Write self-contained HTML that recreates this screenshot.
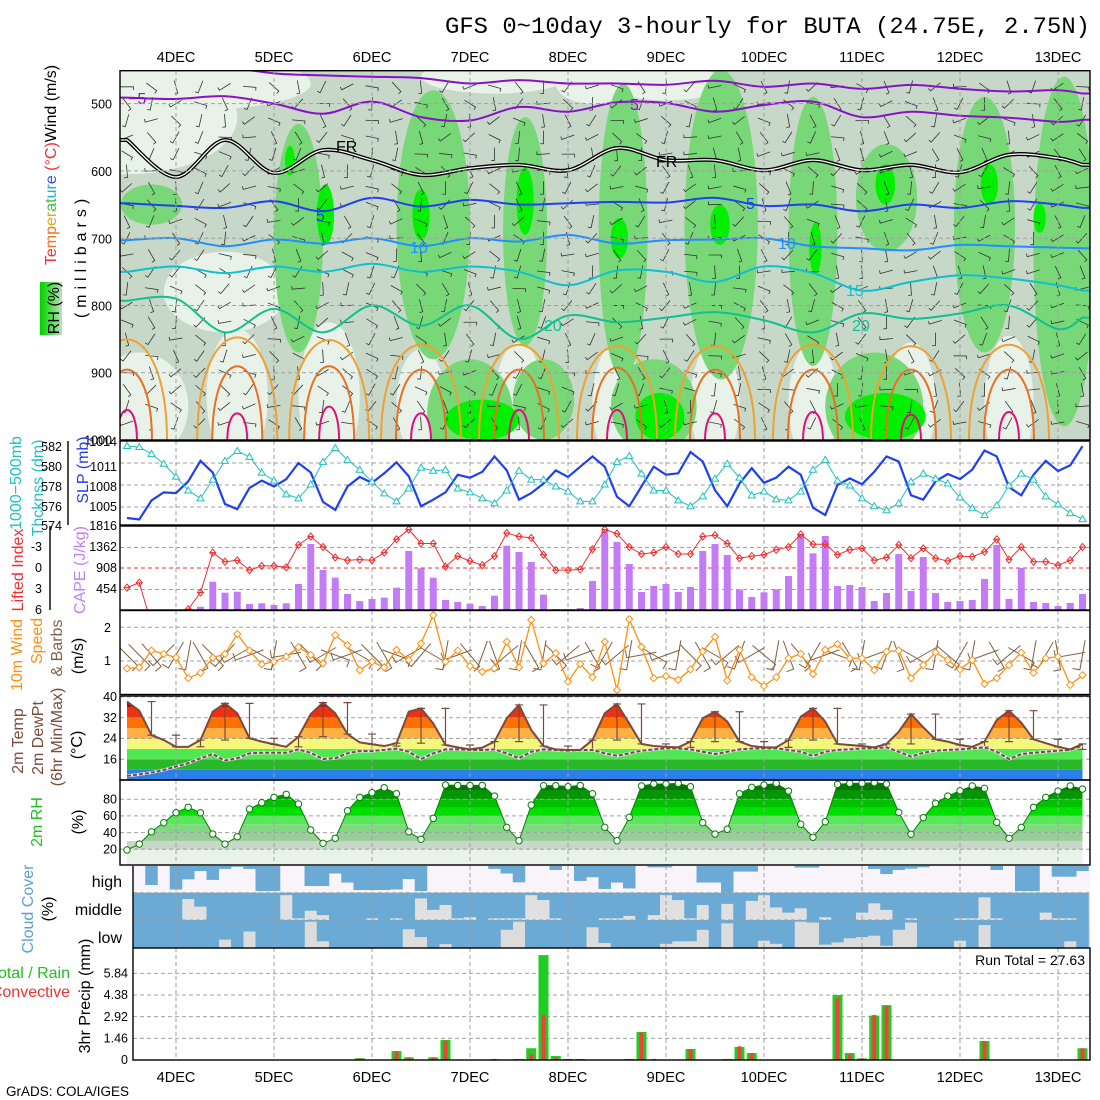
<!DOCTYPE html>
<html><head><meta charset="utf-8">
<style>
body{margin:0;background:#fff}
svg{display:block}
text{font-family:"Liberation Sans",sans-serif}
.tk{font-size:12.5px;fill:#000}
.rl{font-size:16px}
.dl{font-size:14.5px;fill:#000}
</style></head>
<body>
<svg id="chart" xmlns="http://www.w3.org/2000/svg" width="1100" height="1100" viewBox="0 0 1100 1100">
<defs>
<clipPath id="clipTop"><rect x="120" y="71" width="970" height="369"/></clipPath>
<clipPath id="clipCape"><rect x="120" y="526" width="970" height="84"/></clipPath>
<clipPath id="clipWind"><rect x="120" y="611" width="970" height="84"/></clipPath>
<clipPath id="clipT"><polygon id="tpoly" points="0,0"/></clipPath>
<clipPath id="clipRH"><polygon id="rhpoly" points="0,0"/></clipPath>
<linearGradient id="rhleg" x1="0" x2="1" y1="0" y2="0"><stop offset="0" stop-color="#00d000"/><stop offset="0.5" stop-color="#50e050"/><stop offset="1" stop-color="#c8d8c8"/></linearGradient>
</defs>
<rect x="0" y="0" width="1100" height="1100" fill="#fff"/>
<g id="gTop" clip-path="url(#clipTop)"></g>
<g id="gMain"></g>
<g id="gGrid"></g>
<g id="gMarks"></g>

<g fill="none" stroke="#000" stroke-width="1.4">
<rect x="120" y="70.7" width="970" height="369.3"/>
<rect x="120" y="441" width="970" height="84"/>
<rect x="120" y="526" width="970" height="84"/>
<rect x="120" y="610.5" width="970" height="84"/>
<rect x="120" y="696" width="970" height="84"/>
<rect x="120" y="780" width="970" height="85"/>
<line x1="133" y1="866" x2="133" y2="948"/>
<rect x="133" y="948" width="957" height="112"/>
<line x1="68" y1="441" x2="68" y2="525"/>
<line x1="50" y1="526" x2="50" y2="610"/>
</g>

<text x="445" y="33" textLength="645" lengthAdjust="spacingAndGlyphs" style="font-family:'Liberation Mono',monospace;font-size:23.5px" fill="#000">GFS 0~10day 3-hourly for BUTA (24.75E, 2.75N)</text>
<g id="gDates"></g>

<g class="tk" text-anchor="end">
<text x="112" y="108.5">500</text>
<text x="112" y="176">600</text>
<text x="112" y="243.5">700</text>
<text x="112" y="310.5">800</text>
<text x="112" y="377.5">900</text>
<text x="112" y="444.5">1000</text>
</g>
<text class="rl" transform="translate(56,165) rotate(-90)" text-anchor="middle"><tspan fill="#f03030">Te</tspan><tspan fill="#f07020">mp</tspan><tspan fill="#e0b000">er</tspan><tspan fill="#40c040">at</tspan><tspan fill="#20b0d0">ur</tspan><tspan fill="#3050f0">e</tspan><tspan fill="#f03030"> (°C)</tspan><tspan fill="#000">Wind (m/s)</tspan></text>
<text class="rl" transform="translate(86,256) rotate(-90)" text-anchor="middle" fill="#000" style="letter-spacing:5px">(millibars)</text>
<rect x="40" y="282" width="22" height="53" fill="url(#rhleg)"/>
<text class="rl" transform="translate(59,308) rotate(-90)" text-anchor="middle" fill="#000">RH (%)</text>

<text class="rl" transform="translate(21,483) rotate(-90)" text-anchor="middle" fill="#20c0c0">1000−500mb</text>
<text class="rl" transform="translate(43,488) rotate(-90)" text-anchor="middle" fill="#20c0c0">Thcknss (dm)</text>
<text class="rl" transform="translate(88,470) rotate(-90)" text-anchor="middle" fill="#2040f0">SLP (mb)</text>
<g class="tk" text-anchor="end">
<text x="62" y="451">582</text>
<text x="62" y="471">580</text>
<text x="62" y="491">578</text>
<text x="62" y="511">576</text>
<text x="62" y="530">574</text>
</g>
<g class="tk" text-anchor="end">
<text x="117" y="446">1014</text>
<text x="117" y="471">1011</text>
<text x="117" y="491">1008</text>
<text x="117" y="511">1005</text>
</g>
<text class="rl" transform="translate(23,570) rotate(-90)" text-anchor="middle" fill="#f03030">Lifted Index</text>
<text class="rl" transform="translate(85,570) rotate(-90)" text-anchor="middle" fill="#c080f8">CAPE (J/kg)</text>
<g class="tk" text-anchor="end">
<text x="42" y="551">-3</text>
<text x="42" y="572">0</text>
<text x="42" y="593">3</text>
<text x="42" y="614">6</text>
</g>
<g class="tk" text-anchor="end">
<text x="117" y="530">1816</text>
<text x="117" y="551">1362</text>
<text x="117" y="572">908</text>
<text x="117" y="593">454</text>
</g>
<text class="rl" transform="translate(22,655) rotate(-90)" text-anchor="middle" fill="#ff9010">10m Wind</text>
<text class="rl" transform="translate(42,641) rotate(-90)" text-anchor="middle" fill="#ff9010">Speed</text>
<text class="rl" transform="translate(62,648) rotate(-90)" text-anchor="middle" fill="#806040">&amp; Barbs</text>
<text class="rl" transform="translate(83,656) rotate(-90)" text-anchor="middle" fill="#000">(m/s)</text>
<g class="tk" text-anchor="end">
<text x="111" y="632">2</text>
<text x="111" y="665">1</text>
</g>
<text class="rl" transform="translate(23,741) rotate(-90)" text-anchor="middle" fill="#7a4a3a">2m Temp</text>
<text class="rl" transform="translate(43,738) rotate(-90)" text-anchor="middle" fill="#7a4a3a">2m DewPt</text>
<text class="rl" transform="translate(62,737) rotate(-90)" text-anchor="middle" fill="#7a4a3a">(6hr Min/Max)</text>
<text class="rl" transform="translate(82,745) rotate(-90)" text-anchor="middle" fill="#000">(°C)</text>
<g class="tk" text-anchor="end">
<text x="117" y="701">40</text>
<text x="117" y="722">32</text>
<text x="117" y="742.5">24</text>
<text x="117" y="763.5">16</text>
</g>
<text class="rl" transform="translate(42,822) rotate(-90)" text-anchor="middle" fill="#20c020">2m RH</text>
<text class="rl" transform="translate(83,822) rotate(-90)" text-anchor="middle" fill="#000">(%)</text>
<g class="tk" text-anchor="end">
<text x="117" y="803.5">80</text>
<text x="117" y="820">60</text>
<text x="117" y="837">40</text>
<text x="117" y="853.5">20</text>
</g>
<text class="rl" transform="translate(33,909) rotate(-90)" text-anchor="middle" fill="#5ba0d0">Cloud Cover</text>
<text class="rl" transform="translate(53,909) rotate(-90)" text-anchor="middle" fill="#000">(%)</text>
<text x="122" y="887" text-anchor="end" font-size="16" fill="#000">high</text>
<text x="122" y="915" text-anchor="end" font-size="16" fill="#000">middle</text>
<text x="122" y="943" text-anchor="end" font-size="16" fill="#000">low</text>
<text x="70" y="978" text-anchor="end" font-size="16" fill="#20c020">Total / Rain</text>
<text x="70" y="997" text-anchor="end" font-size="16" fill="#f03030">Convective</text>
<text class="rl" transform="translate(90,996) rotate(-90)" text-anchor="middle" fill="#000">3hr Precip (mm)</text>
<g class="tk" text-anchor="end">
<text x="128" y="977.5">5.84</text>
<text x="128" y="999">4.38</text>
<text x="128" y="1021">2.92</text>
<text x="128" y="1042.5">1.46</text>
<text x="128" y="1064">0</text>
</g>
<text x="1085" y="965" text-anchor="end" font-size="14" fill="#000">Run Total = 27.63</text>
<text x="6" y="1096" font-size="13.5" fill="#000">GrADS: COLA/IGES</text>
</svg>

<script>
const dayLabels = ["4DEC","5DEC","6DEC","7DEC","8DEC","9DEC","10DEC","11DEC","12DEC","13DEC"];
const slp = [1003.5,1003.3,1005.9,1007.0,1006.9,1008.5,1011.3,1009.7,1005.4,1004.7,
1007.6,1008.6,1007.8,1008.8,1011.0,1009.7,1005.7,1004.6,1007.8,1009.1,
1008.3,1009.6,1011.1,1009.2,1005.1,1006.0,1007.0,1009.4,1009.0,1009.8,
1011.9,1010.0,1006.0,1006.9,1008.2,1010.0,1009.1,1010.5,1011.9,1010.5,
1006.4,1005.1,1007.8,1010.5,1009.4,1009.6,1012.5,1011.2,1007.3,1005.1,
1008.2,1010.3,1008.3,1009.0,1010.5,1009.4,1004.9,1003.9,1008.0,1008.9,
1008.1,1009.8,1011.9,1011.2,1006.6,1006.0,1008.5,1009.5,1008.8,1010.1,
1012.7,1011.9,1007.7,1006.6,1009.4,1011.3,1009.9,1010.7,1013.3];
const thickness = [582.1,582.0,581.3,580.3,579.0,577.6,576.8,578.7,580.6,581.6,
581.0,579.4,578.6,577.2,576.8,578.2,580.5,581.9,580.7,579.7,
578.5,577.3,576.5,577.8,579.9,579.6,579.7,577.8,577.4,576.8,
576.3,577.6,579.6,578.7,578.7,578.0,577.5,576.5,576.5,578.2,
580.5,581.1,579.3,577.6,577.6,576.6,576.0,577.0,578.8,580.3,
578.9,577.1,577.5,576.7,576.6,577.5,579.7,580.7,578.6,578.1,
576.8,576.0,575.6,576.3,578.5,579.3,578.8,578.3,576.9,575.8,
575.1,576.1,578.1,579.3,578.7,577.0,576.2,575.3,574.7];
const liftedIndex = [2.8,2.1,8,8,8,5.9,3.5,-2.2,-0.9,-1.1,
0.3,-0.3,-0.3,-0.1,-3.3,-4.5,-3.0,-1.5,-1.1,-1.2,
-1.1,-2.2,-4.1,-5.5,-3.5,-3.5,-0.2,-1.7,-1.0,-0.4,
-1.7,-5.0,-4.5,-4.3,-1.9,0.3,0.3,0.2,-2.7,-5.5,
-4.9,-3.0,-2.0,-2.2,-3.0,-2.0,-2.0,-4.5,-4.7,-3.5,
-1.4,-1.7,-1.9,-2.6,-3.0,-4.8,-3.4,-3.4,-1.9,-2.6,
-2.8,-1.1,-1.5,-3.3,-1.4,-2.8,-1.4,-1.0,-1.7,-1.6,
-2.3,-4.1,-1.2,-3.0,-0.9,-0.9,-0.4,-1.1,-3.0];
const cape = [0,0,0,0,0,0,82,623,385,406,
140,156,119,156,573,1438,876,709,357,205,
249,277,493,1286,912,709,227,184,147,97,
320,1401,1265,1049,342,32,30,54,638,1725,
1481,1005,400,530,573,400,508,1286,1438,1200,
450,292,393,458,746,1654,1237,1611,530,551,
508,205,378,1221,421,1157,378,184,205,227,
681,1416,249,919,184,162,97,162,357];
const windSpeed = [0.78,0.81,1.31,1.21,1.10,0.49,0.65,1.10,1.21,1.80,
1.31,0.90,0.98,1.13,1.41,1.18,0.93,1.77,1.47,0.73,
0.98,0.81,1.33,1.03,1.52,2.36,0.98,1.31,0.85,0.68,
0.78,1.57,0.81,2.22,0.93,1.23,0.39,0.91,0.52,1.57,
0.14,2.24,1.42,0.49,0.55,0.44,0.75,1.28,1.72,0.42,
1.33,0.52,0.26,0.52,1.08,1.21,0.61,1.33,1.50,1.08,
1.08,0.73,1.28,1.31,0.49,0.88,1.25,1.03,0.75,1.03,
0.32,0.49,0.88,1.25,0.65,1.08,1.13,0.29,0.58];
const windDir = [45,45,50,135,120,100,60,45,130,150,
160,30,100,170,60,45,150,20,160,30,
45,60,20,150,130,30,100,160,50,110,
70,140,100,60,100,45,140,160,60,120,
140,100,170,30,160,100,45,60,30,140,
110,150,40,100,70,50,120,160,20,60,
100,160,110,70,30,150,100,40,120,100,
160,60,140,30,100,120,80,170,100];
const temp2m = [38.2,34.7,25.3,23.4,20.8,20.8,23.4,34.3,37.5,33.7,
24.1,22.8,21.8,20.8,24.7,33.4,37.8,33.7,25.7,22.5,
21.8,21.1,22.2,34.3,35.6,29.8,21.5,20.6,19.8,20.5,
22.8,31.8,36.9,27.3,21.1,19.8,19.6,19.6,23.4,33.7,
37.3,29.8,21.9,21.1,20.8,20.6,22.8,31.8,34.3,30.5,
22.8,21.1,20.6,20.6,23.4,32.4,35.6,30.5,21.9,21.5,
21.1,20.6,21.9,26.6,33.4,28.3,23.7,22.8,21.5,20.8,
22.8,31.1,34.7,30.1,23.7,22.2,20.8,19.8,21.9];
const dew2m = [9.6,10.2,10.9,11.9,13.2,14.5,16.4,18.0,15.5,16.4,
18.3,18.5,18.5,18.5,19.8,18.5,16.1,16.4,18.3,19.2,
19.2,19.6,20.1,18.9,16.1,18.3,19.8,19.8,19.6,19.6,
19.8,18.3,16.4,18.9,19.8,19.6,19.3,19.6,19.6,18.3,
17.3,18.3,19.3,19.8,20.2,20.2,19.8,18.9,18.0,18.9,
19.8,20.1,20.2,20.2,19.6,18.9,17.3,18.9,19.6,19.8,
20.2,20.2,20.6,18.9,17.0,18.5,19.3,19.6,19.8,20.2,
20.6,18.9,16.1,18.0,18.5,18.9,19.3,19.6,21.3];
const rh2m = [19.2,26.3,41,51.9,63.8,70.3,63.8,38.3,26.3,35.1,
68.3,75.8,82.3,85.9,74.3,43.1,27.2,33.2,66.2,82.3,
87.8,93.8,86.6,41,32,57.1,97,96.5,96.5,96.5,
83.8,46.3,30.3,73,96.2,96.2,95,96.5,86.6,46.3,
30.3,58.3,95.8,98.2,98.2,99,95,51.9,38.3,44,
86.6,94.2,97,99,89.8,50,34.4,53,97.8,99,
99,99.8,98.2,64.3,38,57.9,75.1,83.8,90.2,95.8,
93,52.3,33.2,46.3,70.3,82.3,89.8,95.8,92.2];
const cloudHigh = [0,71,0,88,50,19,52,11,3,11,
94,94,0,0,75,75,28,62,90,90,
90,88,49,94,0,0,0,0,0,11,
28,61,0,0,15,0,56,42,86,62,
84,0,5,5,0,0,62,62,100,21,
21,0,0,0,6,6,0,0,0,0,
11,30,15,10,5,0,0,0,0,0,
15,0,94,94,0,40,40,19];
const cloudMid = [100,100,100,100,23,51,100,100,100,100,
100,100,9,94,66,82,100,100,100,94,
100,94,100,21,63,45,94,90,100,94,
94,94,9,27,94,100,100,100,94,94,
85,100,82,9,27,94,45,100,41,100,
30,9,54,73,57,100,90,100,100,73,
39,63,100,94,100,100,100,94,94,17,
94,100,100,100,73,94,94,100];
const cloudLow = [100,100,100,100,100,100,100,70,100,41,
100,100,100,100,6,76,100,100,100,100,
100,100,33,61,100,86,100,100,100,100,
35,6,100,100,100,100,100,26,82,100,
100,100,100,85,76,76,35,100,12,100,
100,74,85,100,6,9,88,80,65,61,
56,92,35,9,100,100,100,74,100,18,
100,100,100,100,100,100,76,100];
const precipTotal = [0,0,0,0,0,0,0,0,0,0,
0,0,0,0,0,0,0,0,0,0.12,
0,0,0.6,0.18,0,0.18,1.35,0,0,0,
0.05,0,0.07,0.79,7.07,0.27,0.07,0.07,0,0,
0,0.07,1.89,0.03,0,0,0.74,0,0,0.07,
0.88,0.47,0,0,0,0,0,0,4.38,0.47,
0.11,2.99,3.7,0,0,0,0,0,0,0,
1.28,0,0,0,0,0,0,0,0.79];
const precipConv = [0,0,0,0,0,0,0,0,0,0,
0,0,0,0,0,0,0,0,0,0.1,
0,0,0.6,0.18,0,0.18,1.3,0,0,0,
0.07,0,0,0.38,3.03,0.18,0.07,0,0,0,
0,0.07,1.85,0.07,0,0,0.74,0,0,0,
0.92,0.47,0,0,0,0,0,0,4.16,0.38,
0.11,3.03,3.63,0,0,0,0,0,0,0,
1.28,0,0,0,0,0,0,0,0.79];
const contourTimes = [0,4,8,12,16,20,24,28,32,36,40,44,48,52,56,60,64,68,72,76,78];
const isoM10 = [440,440,445,455,458,460,462,470,465,470,470,472,466,475,470,478,472,478,482,480,485];
const isoM5 = [491,493,489,500,515,497,520,525,505,512,498,499,512,502,497,520,512,518,521,527,524];
const isoFR = [554,609,554,603,569,584,606,596,591,599,566,584,584,599,584,599,591,602,576,581,591];
const iso5 = [648,652,655,645,660,640,653,643,650,648,646,647,640,652,650,660,650,655,645,650,655];
const iso10 = [703,700,712,702,708,700,712,700,705,695,708,703,702,700,712,715,718,710,712,714,715];
const iso15 = [750,742,752,742,750,738,750,742,750,770,748,750,765,742,752,778,765,755,760,770,778];
const iso20 = [793,790,840,805,840,800,830,800,850,815,825,818,810,822,840,812,820,812,800,835,818];
const bumpTimes = [0,9,16.5,24,32,40,48,56,64,72];
const bump25Top = [850,847,851,858,858,860,860,858,860,858];
const bump30Top = [895,890,890,895,895,892,895,895,895,895];
const bump35Top = [955,960,950,960,955,955,960,958,962,958];
const rhLight = [[0,520,9,85],[5,470,10,40],[1,950,4,80],[9,935,2.5,100],[16.5,935,2.5,110],[24,945,2,80],[32,945,2,90],[40,945,2,90],[48,945,2,90],[56,945,2,90],[64,945,2,90],[72,945,2,100],[30,460,6,25],[44,470,5,25],[8,780,5,60],[38,470,3,30]];
const rhGreen = [[14,700,2,170],[25,680,3,200],[28,960,3.5,80],[32.5,690,1.8,170],[40.5,690,2,220],[43,950,3.5,70],[48.5,680,3,230],[56,690,2,200],[61,950,4,80],[62,640,2.5,80],[70,680,2.5,190],[76.5,720,2.5,260],[2,650,2.5,30],[34,940,2.5,60]];
const rhBright = [[16.2,665,0.7,45],[24,665,0.7,38],[32.5,645,0.7,50],[40.2,700,0.7,30],[48.4,680,0.8,30],[56.2,715,0.5,38],[61.9,620,0.8,30],[70.4,620,0.7,30],[29,970,3,30],[43.5,965,2,35],[61.9,965,3.3,35],[74.5,670,0.5,22],[13.3,585,0.4,22]];

const NS = 'http://www.w3.org/2000/svg';
const X = i => 127 + 12.25 * i;
const yP = p => 440 - (1000 - p) * 0.6727;
const ySLP = v => 507 - (v - 1005) * 7.33;
const yThk = v => 447 + (582 - v) * 9.875;
const yLI = v => 568 + v * 7;
const yCAPE = v => 610.5 - v / 454 * 21;
const yWind = v => 694.7 - v * 33.7;
const yT = v => 759.3 - (v - 16) * 2.6;
const yRH = v => 849.3 - (v - 20) * 0.835;
const yPr = v => 1060 - v * 14.84;
function mk(tag, attrs, parent) {
  const e = document.createElementNS(NS, tag);
  for (const k in attrs) e.setAttribute(k, attrs[k]);
  parent.appendChild(e);
  return e;
}
const gTop = document.getElementById('gTop');
const gMain = document.getElementById('gMain');
const gGrid = document.getElementById('gGrid');
const gMarks = document.getElementById('gMarks');
const gDates = document.getElementById('gDates');

let bg = mk('rect', {x:120, y:70, width:970, height:370, fill:'#c8d8c8'}, gTop);


function blob(b, color, name) {
  const e = mk('ellipse', {cx:X(b[0]), cy:yP(b[1]), rx:b[2]*12.25, ry:b[3]*0.6727, fill:color}, gTop);
  
  
}
rhLight.forEach(b => blob(b, '#e8f2e8', 'rh-dry-region'));
rhGreen.forEach(b => blob(b, '#78d878', 'rh-moist-region'));
rhBright.forEach(b => blob(b, '#00f000', 'rh-saturated-region'));
for (let ix = 0; ix < 40; ix++) {
  for (let iy = 0; iy < 21; iy++) {
    const cx = X(ix * 2), cy = yP(475 + iy * 25);
    const a = ((ix * 37 + iy * 53 + (ix * iy) % 7 * 11) % 180) * Math.PI / 180;
    const dx = Math.cos(a) * 6.5, dy = Math.sin(a) * 6.5;
    const ln = mk('path', {d:`M${cx-dx},${cy-dy}L${cx+dx},${cy+dy}l${-dy*0.5},${dx*0.5}`, stroke:'#333', 'stroke-width':0.8, fill:'none'}, gTop);
    
    
  }
}
function bump(k, top, w, color, name) {
  const xc = X(bumpTimes[k]), yt = yP(top);
  const yc = (yt - 110) / 0.75;
  const e = mk('path', {d:`M${xc-w},441 C${xc-w},${yc} ${xc+w},${yc} ${xc+w},441`, fill:'none', stroke:color, 'stroke-width':2}, gTop);
  
  
}
bumpTimes.forEach((t, k) => {
  bump(k, bump25Top[k], 40, '#f0a030', 'isotherm-25c');
  bump(k, bump30Top[k], 25, '#e87020', 'isotherm-30c');
  bump(k, bump35Top[k], 10, '#e0107a', 'isotherm-35c');
});
function smoothPath(vals) {
  const pts = vals.map((p, k) => [X(contourTimes[k]), yP(p)]);
  let d = `M${pts[0][0] - 8},${pts[0][1]}L${pts[0][0]},${pts[0][1]}`;
  for (let k = 0; k < pts.length - 1; k++) {
    const p0 = pts[Math.max(0, k-1)], p1 = pts[k], p2 = pts[k+1], p3 = pts[Math.min(pts.length-1, k+2)];
    d += `C${p1[0]+(p2[0]-p0[0])/6},${p1[1]+(p2[1]-p0[1])/6} ${p2[0]-(p3[0]-p1[0])/6},${p2[1]-(p3[1]-p1[1])/6} ${p2[0]},${p2[1]}`;
  }
  const last = pts[pts.length-1];
  d += `L${last[0]+10},${last[1]}`;
  return d;
}
function contour(vals, color, w, name) {
  const e = mk('path', {d:smoothPath(vals), fill:'none', stroke:color, 'stroke-width':w}, gTop);
  
  
}
contour(isoM10, '#8a10c8', 2, 'isotherm-minus10');
contour(isoM5, '#8a10c8', 2, 'isotherm-minus5');
contour(isoFR, '#000', 4, 'freezing-level-outer');
contour(isoFR, '#fff', 1.3, 'freezing-level-inner');
contour(iso5, '#2040f0', 2, 'isotherm-5');
contour(iso10, '#1e90ff', 2, 'isotherm-10');
contour(iso15, '#10c0d0', 2, 'isotherm-15');
contour(iso20, '#10c090', 2, 'isotherm-20');
const clabels = [['−5',128,104,'#8a10c8'],['5',630,110,'#8a10c8'],['FR',336,152,'#000'],['FR',656,167,'#000'],['5',316,221,'#2040f0'],['5',746,209,'#2040f0'],['10',410,253,'#1e90ff'],['10',778,249,'#1e90ff'],['15',846,296,'#10c0d0'],['20',544,331,'#10c090'],['20',852,331,'#10c090']];
clabels.forEach(c => {
  const t = mk('text', {x:c[1], y:c[2], fill:c[3], 'font-size':16}, gTop);
  t.textContent = c[0];
  
  
});

function dash(x1, y1, x2, y2, color) {
  const e = mk('line', {x1, y1, x2, y2, stroke:color || '#a0a0a0', 'stroke-width':1, 'stroke-dasharray':'4,3'}, gGrid);
  
  
}
const panelsY = [[71,440],[441,525],[526,610],[611,695],[696,780],[780,865],[866,948],[948,1060]];
dayLabels.forEach((lab, k) => {
  const x = X(4 + 8 * k);
  panelsY.forEach(p => dash(x, p[0], x, p[1]));
  const t1 = mk('text', {x:x, y:62, 'text-anchor':'middle', class:'dl'}, gDates);
  t1.textContent = lab;
  
  
  const t2 = mk('text', {x:x, y:1082, 'text-anchor':'middle', class:'dl'}, gDates);
  t2.textContent = lab;
  
  
});
[500,600,700,800,900].forEach(p => dash(120, yP(p), 1090, yP(p)));
[1005,1008,1011].forEach(v => dash(120, ySLP(v), 1090, ySLP(v)));
[454,1362].forEach(v => dash(120, yCAPE(v), 1090, yCAPE(v)));
dash(120, yLI(0), 1090, yLI(0), '#f03030');
[1,2].forEach(v => dash(120, yWind(v), 1090, yWind(v)));
[16,24,32,40].forEach(v => dash(120, yT(v), 1090, yT(v)));
[20,40,60,80].forEach(v => dash(120, yRH(v), 1090, yRH(v)));
dash(133, 892.7, 1090, 892.7); dash(133, 920, 1090, 920);
[1.46,2.92,4.38,5.84].forEach(v => dash(133, yPr(v), 1090, yPr(v)));

let slpLine = mk('polyline', {points:slp.map((v,i)=>X(i)+','+ySLP(v)).join(' '), fill:'none', stroke:'#2040f0', 'stroke-width':2.2}, gMarks);


let thkLine = mk('polyline', {points:thickness.map((v,i)=>X(i)+','+yThk(v)).join(' '), fill:'none', stroke:'#20c0c0', 'stroke-width':1}, gMarks);


thickness.forEach((v, i) => {
  const x = X(i), y = yThk(v);
  const m = mk('path', {d:`M${x},${y-3.5}L${x+3.5},${y+2.5}L${x-3.5},${y+2.5}Z`, fill:'#fff', stroke:'#20c0c0', 'stroke-width':1}, gMarks);
  
  
});

const gCape = mk('g', {'clip-path':'url(#clipCape)'}, gMarks);


cape.forEach((v, i) => {
  if (v <= 0) return;
  const b = mk('rect', {x:X(i)-3.5, y:yCAPE(v), width:7, height:610.5-yCAPE(v), fill:'#c47cf6'}, gCape);
  
  
});
let liLine = mk('polyline', {points:liftedIndex.map((v,i)=>X(i)+','+yLI(v)).join(' '), fill:'none', stroke:'#f03030', 'stroke-width':1}, gCape);


liftedIndex.forEach((v, i) => {
  const x = X(i), y = yLI(v);
  const m = mk('path', {d:`M${x},${y-3.5}L${x+3},${y}L${x},${y+3.5}L${x-3},${y}ZM${x-3},${y}L${x+3},${y}`, fill:'none', stroke:'#f03030', 'stroke-width':1}, gCape);
  
  
});

const gWind = mk('g', {'clip-path':'url(#clipWind)'}, gMarks);


windDir.forEach((d, i) => {
  const a = d * Math.PI / 180, x = X(i), y = 655;
  const dx = Math.cos(a) * 15, dy = Math.sin(a) * 15;
  const b = mk('path', {d:`M${x-dx},${y-dy}L${x+dx},${y+dy}l${-dy*0.5},${dx*0.5}`, fill:'none', stroke:'#806040', 'stroke-width':1}, gWind);
  
  
});
let wsLine = mk('polyline', {points:windSpeed.map((v,i)=>X(i)+','+yWind(v)).join(' '), fill:'none', stroke:'#ff9010', 'stroke-width':1.3}, gWind);


windSpeed.forEach((v, i) => {
  const x = X(i), y = yWind(v);
  const m = mk('path', {d:`M${x},${y-3.5}L${x+3.5},${y}L${x},${y+3.5}L${x-3.5},${y}Z`, fill:'#fff', stroke:'#ff9010', 'stroke-width':1}, gWind);
  
  
});

document.getElementById('tpoly').setAttribute('points', temp2m.map((v,i)=>X(i)+','+yT(v)).join(' ') + ` ${X(78)},780 ${X(0)},780`);
const gTf = mk('g', {'clip-path':'url(#clipT)'}, gMain);


const tBands = [[-10,12,'#2a80e8'],[12,16,'#28b828'],[16,20,'#50e850'],[20,24,'#f4f87a'],[24,28,'#ffb040'],[28,32,'#ff7000'],[32,36,'#f03010'],[36,50,'#c00000']];
tBands.forEach(b => {
  const r = mk('rect', {x:X(0), y:yT(b[1]), width:X(78)-X(0), height:yT(b[0])-yT(b[1]), fill:b[2]}, gTf);
  
  
});
for (let i = 2; i <= 78; i += 2) {
  const seg = [temp2m[i-2], temp2m[i-1], temp2m[i]];
  const hi = Math.max(...seg), lo = Math.min(...seg), x = X(i);
  const e = mk('path', {d:`M${x},${yT(hi)}L${x},${yT(lo)}M${x-4},${yT(hi)}L${x+4},${yT(hi)}M${x-4},${yT(lo)}L${x+4},${yT(lo)}`, stroke:'#7a4a3a', 'stroke-width':1.2, fill:'none'}, gMarks);
  
  
}
let dwB = mk('polyline', {points:dew2m.map((v,i)=>X(i)+','+yT(v)).join(' '), fill:'none', stroke:'#e8e8ff', 'stroke-width':3}, gMarks);


let dw = mk('polyline', {points:dew2m.map((v,i)=>X(i)+','+yT(v)).join(' '), fill:'none', stroke:'#7a4a3a', 'stroke-width':2, 'stroke-dasharray':'4,2'}, gMarks);


let tl = mk('polyline', {points:temp2m.map((v,i)=>X(i)+','+yT(v)).join(' '), fill:'none', stroke:'#7a4a3a', 'stroke-width':2}, gMarks);



document.getElementById('rhpoly').setAttribute('points', rh2m.map((v,i)=>X(i)+','+yRH(v)).join(' ') + ` ${X(78)},866 ${X(0)},866`);
const rhBase = [[0,20,'#e8f2e6'],[20,30,'#c8d8c8']];
rhBase.forEach(b => {
  const r = mk('rect', {x:X(0), y:yRH(b[1]), width:X(78)-X(0), height:yRH(b[0])-yRH(b[1]), fill:b[2]}, gMain);
  
  
});
const gRf = mk('g', {'clip-path':'url(#clipRH)'}, gMain);


const rhBands = [[30,40,'#9ccc9c'],[40,50,'#80d880'],[50,60,'#58e858'],[60,70,'#00e000'],[70,80,'#00c000'],[80,90,'#009800'],[90,101,'#007800']];
rhBands.forEach(b => {
  const r = mk('rect', {x:X(0), y:yRH(b[1]), width:X(78)-X(0), height:yRH(b[0])-yRH(b[1]), fill:b[2]}, gRf);
  
  
});
let rl = mk('polyline', {points:rh2m.map((v,i)=>X(i)+','+yRH(v)).join(' '), fill:'none', stroke:'#008000', 'stroke-width':1}, gMarks);


rh2m.forEach((v, i) => {
  const c = mk('circle', {cx:X(i), cy:yRH(v), r:3.2, fill:'#fff', stroke:'#008000', 'stroke-width':1}, gMarks);
  
  
});

const rows = [[cloudHigh,866,26.7,'#f8f4fa','high'],[cloudMid,892.7,27.3,'#e0e0e0','mid'],[cloudLow,920,28,'#dcdcdc','low']];
rows.forEach(r => {
  const bgR = mk('rect', {x:133, y:r[1], width:957, height:r[2], fill:r[3]}, gMain);
  
  
  r[0].forEach((v, k) => {
    if (v <= 0) return;
    const c = mk('rect', {x:133 + 12.25*k, y:r[1], width:12.5, height:r[2]*v/100, fill:'#6aaad4'}, gMain);
    
    
  });
});

precipTotal.forEach((v, i) => {
  if (v <= 0) return;
  const g = mk('rect', {x:X(i)-5, y:yPr(v), width:10, height:1060-yPr(v), fill:'#22cc22'}, gMarks);
  
  
});
precipConv.forEach((v, i) => {
  if (v <= 0) return;
  const r = mk('rect', {x:X(i)-2, y:yPr(v), width:4, height:1060-yPr(v), fill:'#f04040'}, gMarks);
  
  
});
</script>
</body></html>
